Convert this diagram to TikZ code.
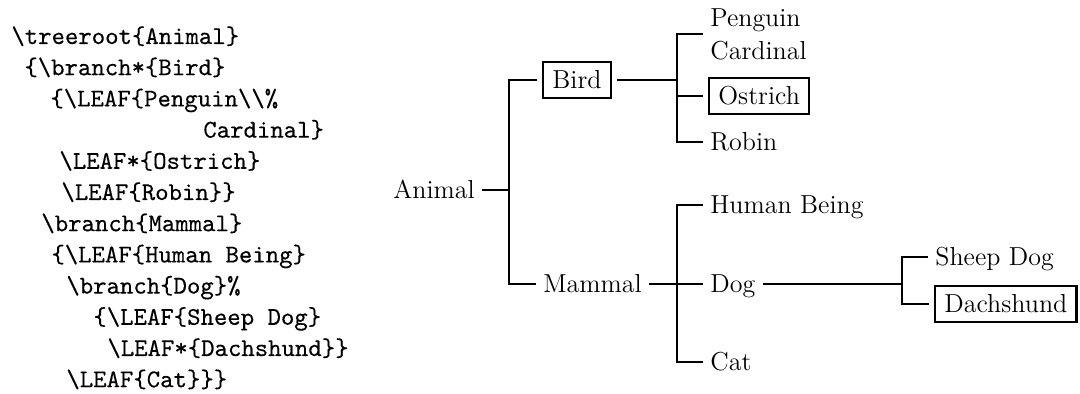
\documentclass[tikz,border=0pt]{standalone}
\usepackage{fontspec}
\newfontfamily\listingfam{lmmono10-regular.otf}[FakeBold=0.3]
\newcommand\treefont{\fontsize{13}{16.5}\selectfont}
\newcommand\codefont{\listingfam\fontsize{12.76}{15.6}\selectfont}
\tikzset{
  codeline/.style={anchor=base west, inner sep=0pt, font=\codefont},
  leaf/.style={anchor=west, inner xsep=3.5pt, inner ysep=0pt,
    text height=9pt, text depth=0pt, font=\treefont},
  multileaf/.style={anchor=west, inner xsep=3.5pt, inner ysep=0pt,
    align=left, font=\treefont},
  boxed/.style={anchor=west, draw, line width=1.2pt, inner xsep=4.7pt,
    inner ysep=3.5pt, text height=10pt, text depth=1pt, outer sep=3pt,
    font=\treefont},
  link/.style={line width=1.2pt},
}
\begin{document}
\begin{tikzpicture}[x=0.5pt, y=-0.5pt]
\useasboundingbox (0,0) rectangle (1080,394);

% source listing
\node[codeline] (code1)  at (11,44)    {\textbackslash treeroot\{Animal\}};
\node[codeline] (code2)  at (24,75.2)  {\{\textbackslash branch*\{Bird\}};
\node[codeline] (code3)  at (50,106.4) {\{\textbackslash LEAF\{Penguin\textbackslash\textbackslash\%};
\node[codeline] (code4)  at (203,137.6){Cardinal\}};
\node[codeline] (code5)  at (59,168.8) {\textbackslash LEAF*\{Ostrich\}};
\node[codeline] (code6)  at (61,200)   {\textbackslash LEAF\{Robin\}\}};
\node[codeline] (code7)  at (41,231.2) {\textbackslash branch\{Mammal\}};
\node[codeline] (code8)  at (51,262.4) {\{\textbackslash LEAF\{Human Being\}};
\node[codeline] (code9)  at (66,293.6) {\textbackslash branch\{Dog\}\%};
\node[codeline] (code10) at (93,324.8) {\{\textbackslash LEAF\{Sheep Dog\}};
\node[codeline] (code11) at (107,356)  {\textbackslash LEAF*\{Dachshund\}\}};
\node[codeline] (code12) at (66,387.2) {\textbackslash LEAF\{Cat\}\}\}};

% tree nodes
\node[leaf] (animal) at (386,190) {Animal};
\node[boxed] (bird) at (537,80) {Bird};
\node[leaf] (mammal) at (536,284) {Mammal};
\node[multileaf] (pc) at (703,34) {Penguin\\Cardinal};
\node[boxed] (ostrich) at (703,96) {Ostrich};
\node[leaf] (robin) at (703,142) {Robin};
\node[leaf] (human) at (703,205) {Human Being};
\node[leaf] (dog) at (703,284) {Dog};
\node[leaf] (cat) at (703,362) {Cat};
\node[leaf] (sheep) at (928,257) {Sheep Dog};
\node[boxed] (dachs) at (929,304) {Dachshund};

% branching points
\coordinate (ja) at (509,190);
\coordinate (jb) at (677,80);
\coordinate (jm) at (677,284);
\coordinate (jd) at (902,284);

% connectors
\draw[link] (animal.east) -- (ja);
\draw[link] (bird.west) -| (ja) |- (mammal.west);
\draw[link] (bird.east) -- (jb);
\draw[link] (pc.west) -| (jb) |- (robin.west);
\draw[link] (jb |- ostrich.west) -- (ostrich.west);
\draw[link] (mammal.east) -- (dog.west);
\draw[link] (human.west) -| (jm) |- (cat.west);
\draw[link] (dog.east) -- (jd);
\draw[link] (sheep.west) -| (jd) |- (dachs.west);
\end{tikzpicture}
\end{document}
